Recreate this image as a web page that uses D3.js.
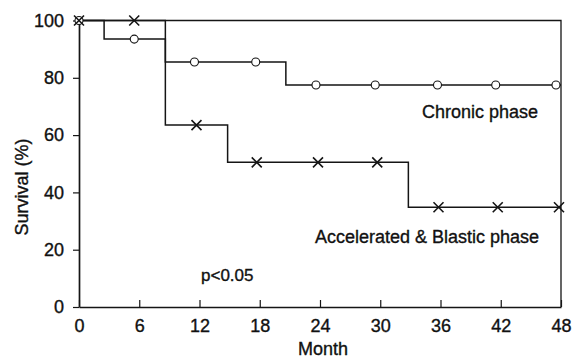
<!DOCTYPE html>
<html><head><meta charset="utf-8">
<script src="https://cdn.jsdelivr.net/npm/d3@7"></script>
<style>
html,body{margin:0;padding:0;background:#fff;}
svg{display:block;}
text{font-family:"Liberation Sans",Arial,sans-serif;fill:#111;stroke:#111;stroke-width:0.35px;}
</style></head>
<body>
<svg id="c" width="575" height="359"></svg>
<script>
// Data
const xTicks = [0, 6, 12, 18, 24, 30, 36, 42, 48];
const yTicks = [0, 20, 40, 60, 80, 100];
const chronicStepTime = [0, 2.5, 8.6, 20.6];
const chronicStepSurv = [100, 93.5, 85.5, 77.5];
const chronicCensor = [5.5, 11.5, 17.6, 23.6, 29.5, 35.7, 41.5, 47.5];
const abStepTime = [0, 8.6, 14.8, 32.8];
const abStepSurv = [100, 63.5, 50.5, 34.8];
const abCensor = [5.5, 11.7, 17.7, 23.8, 29.7, 35.8, 41.7, 47.8];
const endTime = 48;

const svg = d3.select("#c");
const x = d3.scaleLinear().domain([0, 48]).range([79, 561]);
const y = d3.scaleLinear().domain([0, 100]).range([307, 20.5]);
const ink = "#151515";

// frame (top and right)
svg.append("path")
  .attr("d", `M${x(0)},${y(100)}H${x(48)}V${y(0)}`)
  .attr("fill", "none").attr("stroke", ink).attr("stroke-width", 1.3);

// axes
const gx = svg.append("g").attr("transform", `translate(0,${y(0)})`)
  .call(d3.axisBottom(x).tickValues(xTicks).tickSizeInner(-7).tickSizeOuter(0).tickPadding(12));
const gy = svg.append("g").attr("transform", `translate(${x(0)},0)`)
  .call(d3.axisLeft(y).tickValues(yTicks).tickSizeInner(6).tickSizeOuter(0).tickPadding(9));
[gx, gy].forEach(g => {
  g.select(".domain").attr("stroke", ink).attr("stroke-width", 1.7);
  g.selectAll(".tick line").attr("stroke", ink).attr("stroke-width", 1.2);
  g.selectAll(".tick text").attr("font-size", 18).attr("fill", ink)
    .attr("font-family", '"Liberation Sans",Arial,sans-serif');
});
gx.selectAll(".tick text").attr("dy", "0.71em");

// step curves
function stepPath(times, surv) {
  let d = `M${x(times[0])},${y(surv[0])}`;
  for (let i = 1; i < times.length; i++) {
    d += `H${x(times[i])}V${y(surv[i])}`;
  }
  d += `H${x(endTime)}`;
  return d;
}
function survAt(times, surv, t) {
  let v = surv[0];
  for (let i = 0; i < times.length; i++) if (t >= times[i]) v = surv[i];
  return v;
}
svg.append("path").attr("d", stepPath(chronicStepTime, chronicStepSurv))
  .attr("fill", "none").attr("stroke", ink).attr("stroke-width", 1.5);
svg.append("path").attr("d", stepPath(abStepTime, abStepSurv))
  .attr("fill", "none").attr("stroke", ink).attr("stroke-width", 1.5);

// markers
svg.selectAll("circle.ch").data([0].concat(chronicCensor)).join("circle")
  .attr("class", "ch")
  .attr("cx", d => x(d)).attr("cy", d => y(survAt(chronicStepTime, chronicStepSurv, d)))
  .attr("r", 4).attr("fill", "#fff").attr("stroke", ink).attr("stroke-width", 1.1);
svg.selectAll("path.ab").data([0].concat(abCensor)).join("path")
  .attr("class", "ab")
  .attr("d", d => {
    const cx = x(d), cy = y(survAt(abStepTime, abStepSurv, d)), s = 5;
    return `M${cx - s},${cy - s}L${cx + s},${cy + s}M${cx - s},${cy + s}L${cx + s},${cy - s}`;
  })
  .attr("stroke", ink).attr("stroke-width", 1.6).attr("fill", "none");

// labels
svg.append("text").attr("x", 422).attr("y", 118).attr("font-size", 18).text("Chronic phase");
svg.append("text").attr("x", 315).attr("y", 243).attr("font-size", 18).text("Accelerated & Blastic phase");
svg.append("text").attr("x", 201).attr("y", 281).attr("font-size", 17).text("p<0.05");
svg.append("text").attr("x", 323).attr("y", 355).attr("font-size", 18).attr("text-anchor", "middle").text("Month");
svg.append("text").attr("transform", "translate(28,187) rotate(-90)")
  .attr("font-size", 18).attr("text-anchor", "middle").text("Survival (%)");
</script>
</body></html>
